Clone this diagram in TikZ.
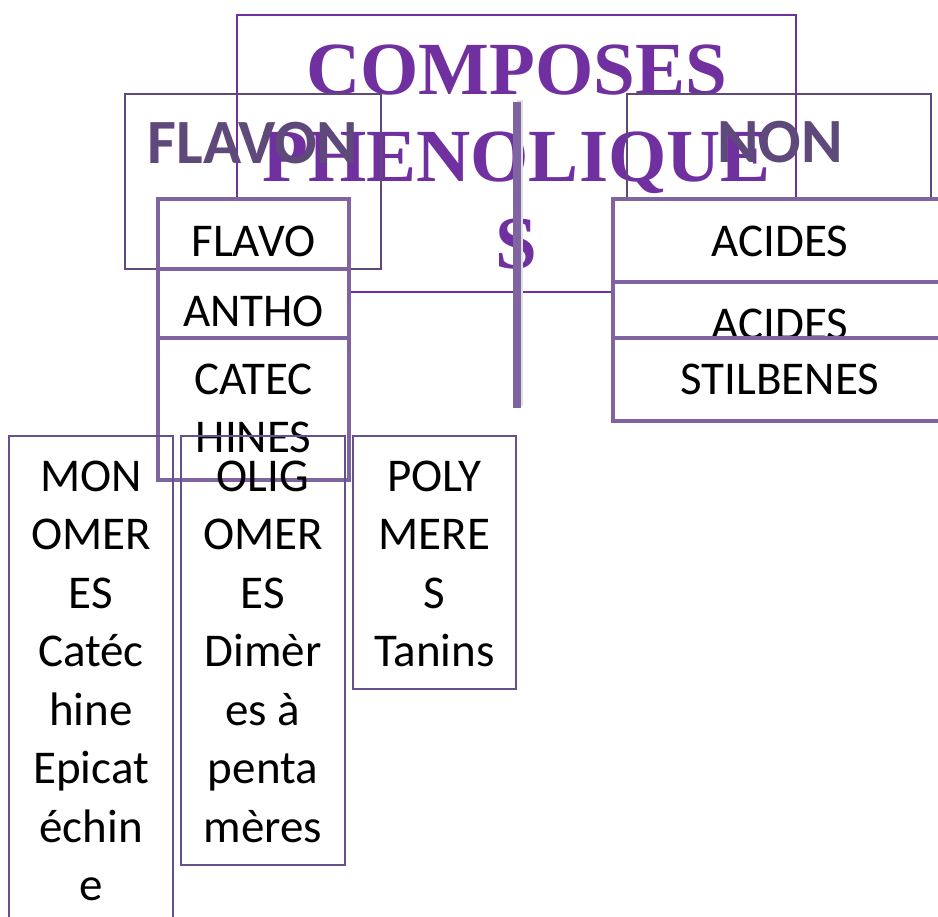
\documentclass[tikz,border=0pt]{standalone}
\usepackage{fontspec}
\setmainfont{Carlito}
\newfontfamily\titlefont{Liberation Serif}
\definecolor{titlepurple}{HTML}{7030A0}
\definecolor{darkpurple}{HTML}{5F497A}
\definecolor{medpurple}{HTML}{8064A2}
\definecolor{boxpurple}{HTML}{66518C}
\begin{document}
\begin{tikzpicture}[x=1pt,y=-1pt,
  thinbox/.style={draw=darkpurple,line width=1.5pt},
  titlebox/.style={draw=titlepurple,line width=1.5pt},
  thickbox/.style={draw=medpurple,line width=4.5pt,fill=white},
  lowbox/.style={draw=boxpurple,line width=1.8pt},
  titletext/.style={inner sep=0pt,align=center,text=titlepurple,font=\titlefont\bfseries\fontsize{75}{87}\selectfont},
  headtext/.style={inner sep=0pt,text=darkpurple,font=\bfseries\fontsize{63}{75}\selectfont},
  celltext/.style={inner sep=0pt,text=black,font=\fontsize{47}{58.5}\selectfont},
  multitext/.style={inner sep=0pt,align=center,text=black,font=\fontsize{47}{58.5}\selectfont}]
\useasboundingbox (0,0) rectangle (938,917);
\clip (0,0) rectangle (938,917);
\fill[white] (0,0) rectangle (938,917);
% title
\draw[titlebox] (237,15) rectangle (796,292);
\node[titletext,anchor=north] (title) at (516.5,34) {\rule{0pt}{60pt}COMPOSES\\PHENOLIQUE\\S};
% flavon / non headers
\draw[thinbox] (125,94) rectangle (381,269);
\node[headtext,anchor=base] (flavon) at (253,164) {FLAVON};
\draw[thinbox] (627,94) rectangle (931,269);
\node[headtext,anchor=base] (non) at (780,163) {NON};
% vertical bar with soft shadow
\coordinate (bartop) at (517,102);
\coordinate (barbot) at (517,408);
\draw[line width=6pt,black!12] ([xshift=3pt,yshift=2pt]bartop) -- ([xshift=3pt,yshift=2pt]barbot);
\draw[line width=8pt,medpurple] (bartop) -- (barbot);
% left column
\draw[thickbox] (158,199) rectangle (349,269);
\node[celltext,anchor=base] (flavo) at (253.5,257) {FLAVO};
\draw[thickbox] (158,269) rectangle (349,338);
\node[celltext,anchor=base] (antho) at (253.5,327) {ANTHO};
\draw[thickbox] (158,338) rectangle (349,480);
\node[multitext,anchor=north] (catec) at (253.5,354) {\rule{0pt}{40pt}CATEC\\HINES};
% right column
\draw[thickbox] (613,199) rectangle (948,282);
\node[celltext,anchor=base] (acides1) at (780,257) {ACIDES};
\draw[thickbox] (613,282) rectangle (948,338);
\node[celltext,anchor=base] (acides2) at (780,340) {ACIDES};
\draw[thickbox] (613,338) rectangle (948,421);
\node[celltext,anchor=base] (stilb) at (780,395) {STILBENES};
% bottom boxes
\draw[lowbox] (9,436) rectangle (173,930);
\node[multitext,anchor=north] (mono) at (91,451) {\rule{0pt}{40pt}MON\\OMER\\ES\\Catéc\\hine\\Epicat\\échin\\e};
\draw[lowbox] (181,436) rectangle (345,865);
\node[multitext,anchor=north] (oligo) at (263,451) {\rule{0pt}{40pt}OLIG\\OMER\\ES\\Dimèr\\es à\\penta\\mères};
\draw[lowbox] (353,436) rectangle (516,689);
\node[multitext,anchor=north] (poly) at (434.5,451) {\rule{0pt}{40pt}POLY\\MERE\\S\\Tanins};
\end{tikzpicture}
\end{document}
